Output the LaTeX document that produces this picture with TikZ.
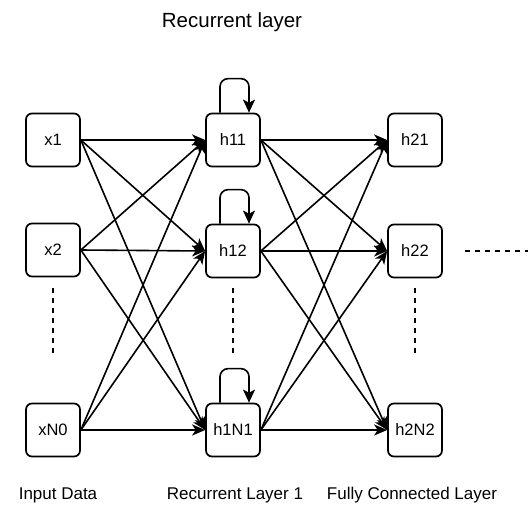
\documentclass[tikz,border=0pt]{standalone}
\usepackage{fontspec}
\setmainfont{Liberation Sans}
\usetikzlibrary{arrows.meta}
\begin{document}
\begin{tikzpicture}[x=1pt,y=-1pt,
  unit/.style={draw, line width=1.7pt, rounded corners=6pt, minimum width=54pt, minimum height=53pt, inner sep=0pt, font=\fontsize{16.5}{18}\selectfont},
  conn/.style={line width=1.6pt, -{Stealth[length=13pt,width=11pt,inset=3.5pt]}},
  loopc/.style={line width=1.6pt, rounded corners=8pt, -{Stealth[length=13pt,width=12pt,inset=3pt]}},
  dots/.style={line width=1.5pt, dash pattern=on 5pt off 5pt},
  lbl/.style={font=\fontsize{17}{20}\selectfont, inner sep=0pt}]
\useasboundingbox (0,0) rectangle (528,517);
\fill[white] (0,0) rectangle (528,517);
% input
\node[unit] (x1) at (53,140) {x1};
\node[unit] (x2) at (53,250) {x2};
\node[unit] (xN) at (53,430) {xN0};
% recurrent
\node[unit] (h11) at (233,140) {h11};
\node[unit] (h12) at (233,251) {h12};
\node[unit] (h1N) at (233,430) {h1N1};
% dense
\node[unit] (h21) at (415,140) {h21};
\node[unit] (h22) at (415,251) {h22};
\node[unit] (h2N) at (415,430) {h2N2};
% connections
\foreach \a in {x1,x2,xN}{
  \foreach \b in {h11,h12,h1N}{
    \draw[conn] (\a.east) -- (\b.west);
  }
}
\foreach \a in {h11,h12,h1N}{
  \foreach \b in {h21,h22,h2N}{
    \draw[conn] (\a.east) -- (\b.west);
  }
}
% self loops
\foreach \n in {h11,h12,h1N}{
  \draw[loopc] ([xshift=-13pt]\n.north) -- ([xshift=-13pt,yshift=34pt]\n.north) -- ([xshift=16pt,yshift=34pt]\n.north) -- ([xshift=16pt]\n.north);
}
% dotted continuations
\coordinate (d1a) at (53,288); \coordinate (d1b) at (53,357);
\coordinate (d2a) at (233,288); \coordinate (d2b) at (233,357);
\coordinate (d3a) at (415,288); \coordinate (d3b) at (415,357);
\coordinate (d4b) at (528,251);
\draw[dots] (d1a) -- (d1b);
\draw[dots] (d2a) -- (d2b);
\draw[dots] (d3a) -- (d3b);
\draw[dots] ([xshift=22pt]h22.east) -- (d4b);
% labels
\node[font=\fontsize{20.5}{24}\selectfont, inner sep=0pt] (title) at (232,22) {Recurrent layer};
\node[lbl] (lin) at (58,495) {Input Data};
\node[lbl] (lrec) at (235,495) {Recurrent Layer 1};
\node[lbl] (lfc) at (412,495) {Fully Connected Layer};
\end{tikzpicture}
\end{document}
